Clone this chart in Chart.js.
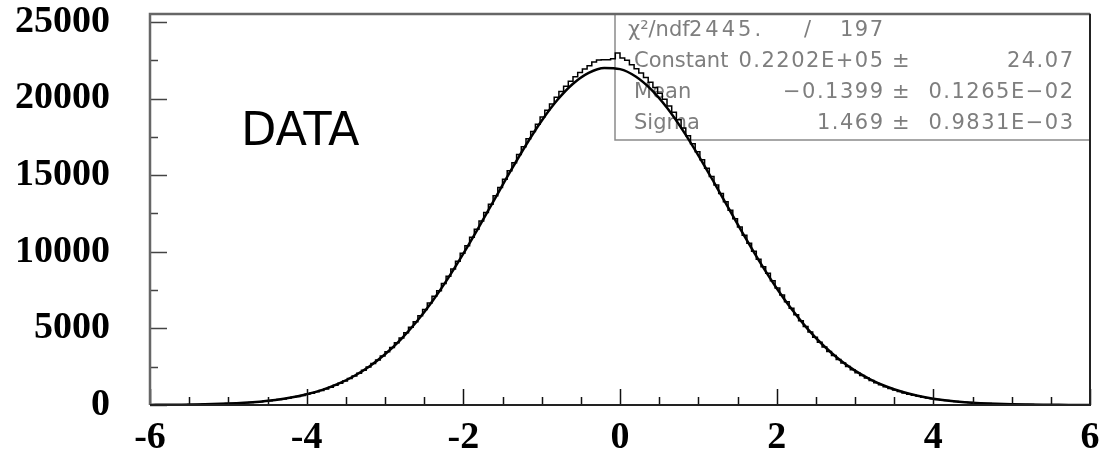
<!DOCTYPE html>
<html>
<head>
<meta charset="utf-8">
<script src="https://cdn.jsdelivr.net/npm/chart.js@4.4.1/dist/chart.umd.min.js"></script>
<style>
  html, body { margin: 0; padding: 0; background: #ffffff; }
  #wrap { width: 1102px; height: 450px; }
</style>
</head>
<body>
<div id="wrap"><canvas id="c" width="1102" height="450"></canvas></div>
<script>
// ---- data ----
const histRange = [-6, 6];               // histogram spans -6 .. 6, 200 bins
const histCounts = [
  8, 10, 11, 14, 15, 19, 22, 24, 30, 33,
  40, 44, 53, 59, 70, 78, 92, 101, 120, 133,
  150, 170, 194, 218, 248, 280, 313, 352, 398, 446,
  498, 558, 621, 694, 771, 858, 950, 1052, 1165, 1287,
  1420, 1562, 1722, 1890, 2074, 2270, 2482, 2706, 2945, 3200,
  3468, 3756, 4060, 4378, 4712, 5070, 5440, 5826, 6230, 6650,
  7090, 7450, 7930, 8400, 8880, 9390, 9900, 10400, 10950, 11470,
  12010, 12560, 13100, 13650, 14200, 14740, 15290, 15810, 16350, 16860,
  17370, 17850, 18330, 18790, 19230, 19650, 20080, 20460, 20800, 21130,
  21420, 21700, 21930, 22150, 22380, 22520, 22530, 22540, 22600, 22980,
  22650, 22500, 22200, 21950, 21670, 21380, 21060, 20720, 20350, 19950,
  19520, 19100, 18620, 18080, 17570, 17050, 16530, 16000, 15460, 14910,
  14360, 13810, 13260, 12710, 12160, 11620, 11080, 10550, 10030, 9520,
  9020, 8600, 8110, 7640, 7180, 6740, 6310, 5890, 5500, 5120,
  4760, 4420, 4095, 3790, 3500, 3230, 2975, 2740, 2515, 2305,
  2110, 1925, 1755, 1595, 1450, 1315, 1190, 1078, 972, 876,
  790, 708, 636, 570, 510, 455, 406, 362, 322, 287,
  254, 226, 200, 177, 156, 138, 121, 106, 94, 81,
  71, 62, 54, 47, 40, 35, 30, 26, 23, 19,
  17, 14, 12, 10, 9, 7, 6, 5, 5, 4
];
const fitX = [
  -6, -5.8, -5.6, -5.4, -5.2, -5, -4.8, -4.6, -4.4, -4.2,
  -4, -3.8, -3.6, -3.4, -3.2, -3, -2.8, -2.6, -2.4, -2.2,
  -2, -1.8, -1.6, -1.4, -1.2, -1, -0.8, -0.6, -0.4, -0.2,
  0, 0.2, 0.4, 0.6, 0.8, 1, 1.2, 1.4, 1.6, 1.8,
  2, 2.2, 2.4, 2.6, 2.8, 3, 3.2, 3.4, 3.6, 3.8,
  4, 4.2, 4.4, 4.6, 4.8, 5, 5.2, 5.4, 5.6, 5.8, 6
];
const fitY = [
  8, 13, 22, 36, 58, 92, 144, 219, 329, 483,
  698, 988, 1374, 1877, 2515, 3309, 4274, 5419, 6743, 8236,
  9878, 11629, 13437, 15243, 16971, 18552, 19904, 20966, 21678, 22002,
  21920, 21438, 20582, 19397, 17944, 16295, 14527, 12712, 10920, 9207,
  7621, 6193, 4939, 3867, 2972, 2243, 1661, 1208, 862, 604,
  415, 280, 186, 121, 77, 48, 30, 18, 11, 6, 4
];
const xTickLabels = [-6, -4, -2, 0, 2, 4, 6];
const yTickLabels = [0, 5000, 10000, 15000, 20000, 25000];
const statsRows = [
  ["\u03C7\u00B2/ndf", "2445.", "/", "197"],
  ["Constant", "0.2202E+05", "24.07"],
  ["Mean", "\u22120.1399", "0.1265E\u221202"],
  ["Sigma", "1.469", "0.9831E\u221203"]
];
const pmSign = "\u00B1";
const dataLabel = "DATA";

// ---- build datasets ----
const nBins = histCounts.length;
const binW = (histRange[1] - histRange[0]) / nBins;
const histPoints = histCounts.map((v, i) => ({ x: histRange[0] + i * binW, y: v }));
histPoints.push({ x: histRange[1], y: histCounts[nBins - 1] });
const fitPoints = fitX.map((x, i) => ({ x: x, y: fitY[i] }));

const decorPlugin = {
  id: 'decor',
  beforeDatasetsDraw(chart) {
    const ctx = chart.ctx;
    const a = chart.chartArea;
    ctx.save();
    // stats box
    const bx = 615, by = a.top, bw = a.right - 615, bh = 140 - a.top;
    ctx.strokeStyle = '#8a8a8a';
    ctx.lineWidth = 1.5;
    ctx.strokeRect(bx, by, bw, bh);
    ctx.fillStyle = '#7e7e7e';
    ctx.textBaseline = 'middle';
    ctx.font = '21px "DejaVu Sans"';
    const rowsY = [31, 62, 93, 124];
    // row 1
    ctx.textAlign = 'left';
    ctx.letterSpacing = '0px';
    ctx.fillText(statsRows[0][0], 628, rowsY[0]);
    ctx.letterSpacing = '3px';
    ctx.fillText(statsRows[0][1], 689, rowsY[0]);
    ctx.letterSpacing = '0px';
    ctx.fillText(statsRows[0][2], 804, rowsY[0]);
    ctx.textAlign = 'right';
    ctx.letterSpacing = '1.5px';
    ctx.fillText(statsRows[0][3], 884.5, rowsY[0]);
    for (let r = 1; r < 4; r++) {
      ctx.textAlign = 'left';
      ctx.letterSpacing = '0px';
      ctx.fillText(statsRows[r][0], 634, rowsY[r]);
      ctx.fillText(pmSign, 892, rowsY[r]);
      ctx.textAlign = 'right';
      ctx.letterSpacing = '1.5px';
      ctx.fillText(statsRows[r][1], 884.5, rowsY[r]);
      ctx.fillText(statsRows[r][2], 1074.5, rowsY[r]);
    }
    ctx.letterSpacing = '0px';
    // DATA label
    ctx.fillStyle = '#000';
    ctx.textAlign = 'left';
    ctx.textBaseline = 'alphabetic';
    ctx.font = '46px "DejaVu Sans"';
    ctx.fillText(dataLabel, 241, 145);
    ctx.restore();
  },
  afterDatasetsDraw(chart) {
    const ctx = chart.ctx;
    const a = chart.chartArea;
    const xs = chart.scales.x, ys = chart.scales.y;
    ctx.save();
    // inner tick marks, x axis
    ctx.strokeStyle = '#111';
    ctx.lineWidth = 1.5;
    ctx.beginPath();
    for (let k = 0; k <= 24; k++) {
      const v = -6 + k * 0.5;
      const px = Math.round(xs.getPixelForValue(v)) + 0.5;
      const len = (k % 4 === 0) ? 16 : 8;
      ctx.moveTo(px, a.bottom);
      ctx.lineTo(px, a.bottom - len);
    }
    ctx.stroke();
    // inner tick marks, y axis
    ctx.strokeStyle = '#444';
    ctx.beginPath();
    for (let k = 0; k <= 10; k++) {
      const v = k * 2500;
      const py = Math.round(ys.getPixelForValue(v)) + 0.5;
      const len = (k % 2 === 0) ? 17 : 8;
      ctx.moveTo(a.left, py);
      ctx.lineTo(a.left + len, py);
    }
    ctx.stroke();
    // frame
    ctx.lineWidth = 2.5;
    ctx.strokeStyle = '#666';
    ctx.beginPath();
    ctx.moveTo(a.left, a.bottom);
    ctx.lineTo(a.left, a.top);
    ctx.lineTo(a.right, a.top);
    ctx.stroke();
    ctx.strokeStyle = '#222';
    ctx.lineWidth = 2;
    ctx.beginPath();
    ctx.moveTo(a.right, a.top);
    ctx.lineTo(a.right, a.bottom);
    ctx.lineTo(a.left, a.bottom);
    ctx.stroke();
    ctx.restore();
  }
};

new Chart(document.getElementById('c'), {
  type: 'line',
  data: {
    datasets: [
      {
        label: 'histogram',
        data: histPoints,
        stepped: 'before',
        borderColor: '#000',
        borderWidth: 1.5,
        pointRadius: 0,
        fill: false
      },
      {
        label: 'fit',
        data: fitPoints,
        cubicInterpolationMode: 'monotone',
        borderColor: '#000',
        borderWidth: 2.5,
        pointRadius: 0,
        fill: false
      }
    ]
  },
  options: {
    responsive: false,
    animation: false,
    events: [],
    layout: { padding: { top: 14, right: 12, left: 0, bottom: 0 } },
    plugins: { legend: { display: false }, tooltip: { enabled: false } },
    scales: {
      x: {
        type: 'linear',
        min: -6, max: 6,
        grid: { display: false, drawTicks: false },
        border: { display: false },
        afterBuildTicks: (s) => { s.ticks = xTickLabels.map(v => ({ value: v })); },
        afterFit: (s) => { s.height = 45; s.paddingLeft = 0; s.paddingRight = 0; },
        ticks: {
          padding: 10,
          color: '#000',
          maxRotation: 0,
          autoSkip: false,
          font: { family: '"Liberation Serif"', weight: 'bold', size: 38 },
          callback: (v) => String(v)
        }
      },
      y: {
        min: 0, max: 25520,
        grid: { display: false, drawTicks: false },
        border: { display: false },
        afterBuildTicks: (s) => { s.ticks = yTickLabels.map(v => ({ value: v })); },
        afterFit: (s) => { s.width = 150; s.paddingTop = 0; s.paddingBottom = 0; },
        ticks: {
          padding: 40,
          color: '#000',
          autoSkip: false,
          font: { family: '"Liberation Serif"', weight: 'bold', size: 38 },
          callback: (v) => String(v)
        }
      }
    }
  },
  plugins: [decorPlugin]
});
</script>
</body>
</html>
